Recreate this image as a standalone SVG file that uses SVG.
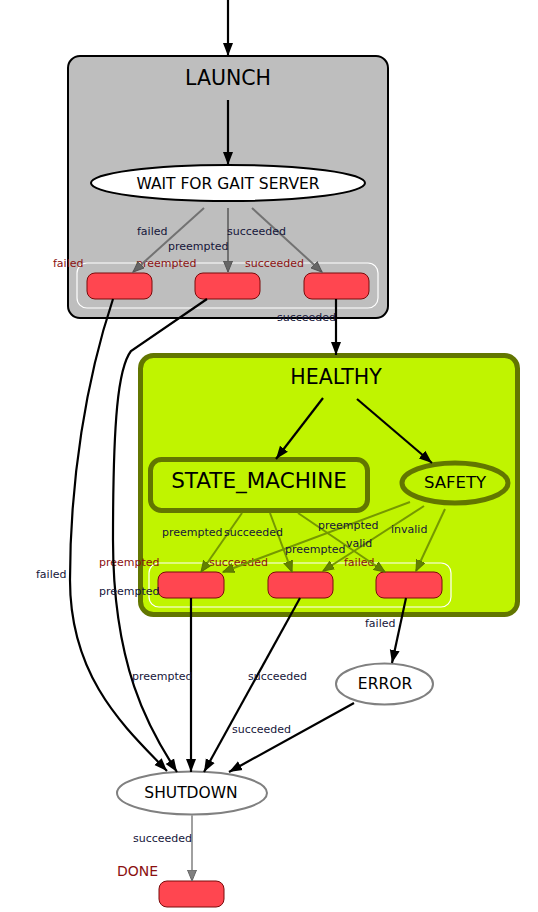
<svg xmlns="http://www.w3.org/2000/svg" width="538" height="912" viewBox="0 0 538 912">
<style>
text{font-family:"DejaVu Sans","Liberation Sans",sans-serif}
.title{font-size:20.5px;fill:#000;text-anchor:middle}
.nt{font-size:15.5px;fill:#000;text-anchor:middle}
.el{font-size:11px;fill:#15153a}
.ol{font-size:11px;fill:#8b1010}
.red{fill:#ff4650;stroke:#7a0a0a;stroke-width:1}
.inner{fill:none;stroke:#ffffff;stroke-width:1.2}
.blk{fill:none;stroke:#000;stroke-width:2.2;marker-end:url(#ab)}
.gry{fill:none;stroke:#727272;stroke-width:2;marker-end:url(#ag)}
.grn{fill:none;stroke:#759800;stroke-width:2;marker-end:url(#agr)}
.lgry{fill:none;stroke:#a0a0a0;stroke-width:2;marker-end:url(#alg)}
</style>
<defs>
<marker id="ab" markerUnits="userSpaceOnUse" markerWidth="14" markerHeight="11" refX="13" refY="5.5" orient="auto"><path d="M0,0.5 L13,5.5 L0,10.5 Z" fill="#000"/></marker>
<marker id="ag" markerUnits="userSpaceOnUse" markerWidth="12" markerHeight="10" refX="11" refY="5" orient="auto"><path d="M0,0.5 L11,5 L0,9.5 Z" fill="#666" stroke="#555" stroke-width="1"/></marker>
<marker id="agr" markerUnits="userSpaceOnUse" markerWidth="12" markerHeight="10" refX="11" refY="5" orient="auto"><path d="M0,0.5 L11,5 L0,9.5 Z" fill="#628000" stroke="#587200" stroke-width="1"/></marker>
<marker id="alg" markerUnits="userSpaceOnUse" markerWidth="12" markerHeight="10" refX="11" refY="5" orient="auto"><path d="M0,0.5 L11,5 L0,9.5 Z" fill="#808080" stroke="#666" stroke-width="1"/></marker>
</defs>
<rect width="538" height="912" fill="#fff"/>

<g id="LAUNCH">
<rect x="68" y="56" width="320" height="262" rx="12" fill="#bebebe" stroke="#000" stroke-width="2"/>
<text class="title" x="228" y="85">LAUNCH</text>
<rect class="inner" x="77" y="263" width="301" height="45" rx="10"/>
</g>
<g id="WAIT_FOR_GAIT_SERVER">
<ellipse cx="228" cy="183" rx="137" ry="18" fill="#fff" stroke="#000" stroke-width="2"/>
<text class="nt" x="228" y="189">WAIT FOR GAIT SERVER</text>
</g>
<g id="LAUNCH_failed"><rect class="red" x="87" y="273" width="65" height="26" rx="8"/><text class="ol" x="53" y="267">failed</text></g>
<g id="LAUNCH_preempted"><rect class="red" x="195" y="273" width="65" height="26" rx="8"/><text class="ol" x="136" y="267">preempted</text></g>
<g id="LAUNCH_succeeded"><rect class="red" x="304" y="273" width="65" height="26" rx="8"/><text class="ol" x="245" y="267">succeeded</text></g>

<g id="HEALTHY">
<rect x="140.5" y="355.5" width="377" height="259" rx="13" fill="#c0f400" stroke="#627600" stroke-width="5"/>
<text class="title" x="336" y="384">HEALTHY</text>
<rect class="inner" x="149" y="563" width="302" height="44" rx="10"/>
</g>
<g id="STATE_MACHINE">
<rect x="150.5" y="459.5" width="217" height="51" rx="11" fill="#c0f400" stroke="#627600" stroke-width="5"/>
<text class="title" x="259" y="488" style="font-size:21.5px">STATE_MACHINE</text>
</g>
<g id="SAFETY">
<ellipse cx="455" cy="483" rx="53" ry="20" fill="#c0f400" stroke="#627600" stroke-width="5"/>
<text class="nt" x="455" y="488" style="font-size:16.5px">SAFETY</text>
</g>
<g id="HEALTHY_preempted"><rect class="red" x="158" y="572" width="66" height="26" rx="8"/><text class="ol" x="99" y="566">preempted</text></g>
<g id="HEALTHY_succeeded"><rect class="red" x="268" y="572" width="65" height="26" rx="8"/><text class="ol" x="209" y="566">succeeded</text></g>
<g id="HEALTHY_failed"><rect class="red" x="376" y="572" width="66" height="26" rx="8"/><text class="ol" x="344" y="566">failed</text></g>

<g id="ERROR">
<ellipse cx="384.5" cy="684" rx="48.5" ry="20.5" fill="#fff" stroke="#808080" stroke-width="2"/>
<text class="nt" x="385" y="689">ERROR</text>
</g>
<g id="SHUTDOWN">
<ellipse cx="192" cy="793" rx="75" ry="21.5" fill="#fff" stroke="#808080" stroke-width="2"/>
<text class="nt" x="191" y="798">SHUTDOWN</text>
</g>
<g id="DONE">
<rect class="red" x="159" y="881" width="65" height="26" rx="8"/>
<text x="117" y="876" style="font-size:14px;fill:#8b1010">DONE</text>
</g>

<g id="connectors">
<path class="blk" d="M228,0 L228,56"/>
<path class="blk" d="M228,100 L228,165"/>
<path class="gry" d="M204,208 L133,272"/>
<path class="gry" d="M228,208 L228,272"/>
<path class="gry" d="M252,208 L322,272"/>
<text class="el" x="137" y="235">failed</text>
<text class="el" x="168" y="250">preempted</text>
<text class="el" x="227" y="235">succeeded</text>

<path class="blk" d="M336,299 L336,355"/>
<text class="el" x="277" y="321">succeeded</text>

<path class="blk" d="M323,398 L276,459"/>
<path class="blk" d="M357,399 L432,463"/>

<path class="grn" d="M242,513 L201,572"/>
<path class="grn" d="M270,513 L292,572"/>
<path class="grn" d="M298,513 L385,572"/>
<path class="grn" d="M410,502 L223,572"/>
<path class="grn" d="M424,506 L323,571"/>
<path class="grn" d="M445,509 L416,571"/>
<text class="el" x="162" y="536">preempted</text>
<text class="el" x="224" y="536">succeeded</text>
<text class="el" x="318" y="529">preempted</text>
<text class="el" x="391" y="533">invalid</text>
<text class="el" x="346" y="547">valid</text>
<text class="el" x="285" y="553">preempted</text>

<path class="blk" d="M113,299 C 86,380 70,480 70,580 C 70,680 128,730 167,771"/>
<text class="el" x="36" y="578">failed</text>
<path class="blk" d="M207,299 L131,351 C 118,368 113,420 113,540 C 113,665 148,728 177,772"/>
<text class="el" x="99" y="595">preempted</text>
<path class="blk" d="M191,598 L191,772"/>
<text class="el" x="132" y="680">preempted</text>
<path class="blk" d="M300,598 L204,772"/>
<text class="el" x="248" y="680">succeeded</text>
<path class="blk" d="M406,598 L392,663"/>
<text class="el" x="365" y="627">failed</text>
<path class="blk" d="M354,703 L229,772"/>
<text class="el" x="232" y="733">succeeded</text>
<path class="lgry" d="M192,815 L192,881"/>
<text class="el" x="133" y="842">succeeded</text>
</g>
</svg>
